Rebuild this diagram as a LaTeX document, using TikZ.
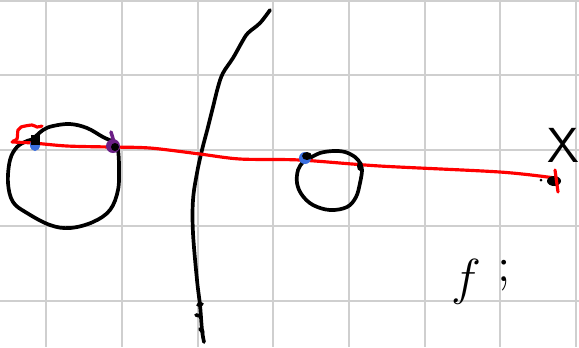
\documentclass[tikz,border=0pt]{standalone}
\usepackage{tikz}
\definecolor{gridgray}{HTML}{CFCFCF}
\definecolor{penred}{HTML}{FF0000}
\definecolor{penblue}{HTML}{3A6FE0}
\definecolor{penpurple}{HTML}{6B1F86}
\begin{document}
\begin{tikzpicture}[x=0.01cm,y=-0.01cm,
  gridline/.style={gridgray,line width=0.6pt},
  ink/.style={black,line width=1.05pt,line cap=round,line join=round},
  redink/.style={penred,line width=0.9pt,line cap=round,line join=round},
  blob/.style={fill=black},
  lbl/.style={inner sep=0pt,font=\fontsize{14}{14}\selectfont}]
\useasboundingbox (0,0) rectangle (579,347);
\fill[white] (0,0) rectangle (579,347);
% grid
\foreach \gx in {46,122,198,273,349,425,500,576}
  \draw[gridline] (\gx,0) -- (\gx,347);
\foreach \gy in {0.6,75,150,226,301}
  \draw[gridline] (0,\gy) -- (579,\gy);
% large loop
\draw[ink] plot[smooth,tension=0.6] coordinates {(33,139) (43,130) (53,126) (70,124) (87,128) (103,137) (115,143) (118,150) (119,167) (118,190) (110,210) (93,222) (70,228) (50,225) (27,213) (13,202) (8,183) (10,160) (17,147) (27,141) (34,139)};
% small loop
\draw[ink] plot[smooth,tension=0.6] coordinates {(310,158) (320,153) (333,151) (345,152) (355,157) (360,163) (362,170) (360,183) (356,197) (347,207) (330,210) (313,205) (302,195) (297,183) (298,170) (303,162) (308,158)};
% vertical curve
\draw[ink] plot[smooth,tension=0.6] coordinates {(270,10) (260,23) (248,33) (242,42) (233,58) (223,73) (218,87) (213,107) (208,127) (202,150) (197,173) (193,200) (193,233) (197,280) (200,305) (202,330) (204,342)};
\draw[ink] (198,305) -- (202,304);
\draw[ink] (196,315) -- (200,316);
\draw[ink] (200,329) -- (203,332);
% red line
\draw[redink] plot[smooth,tension=0.5] coordinates {(12,142) (33,143) (67,146) (110,147) (150,148) (200,154) (240,159) (300,160) (380,166) (500,172) (555,178)};
\draw[redink] plot[smooth,tension=0.5] coordinates {(13,141) (17,139) (18,130) (21,127) (32,125) (37,127) (42,126)};
% points
\fill[penblue] (35,145) ellipse (5 and 6);
\fill[blob] (31,135) rectangle (40,145);
\fill[penpurple] (113,146) circle (7);
\draw[penpurple,line width=1pt,line cap=round] (111,132) -- (114,142);
\fill[blob] (115,147) circle (4);
\fill[penblue] (305,158) circle (6);
\fill[blob] (307,156) ellipse (5 and 4);
\fill[blob] (360,166) ellipse (3 and 5);
\fill[blob] (554,181) ellipse (7 and 5);
\fill[blob] (541,180) circle (1.5);
\draw[redink] (555,170) -- (558,192);
% labels
\node[lbl] (xlabel) at (563,145) {\sffamily X};
\node[lbl] (flabel) at (466,282) {$f$};
\node[lbl] (semi) at (504,276) {;};
\end{tikzpicture}
\end{document}
